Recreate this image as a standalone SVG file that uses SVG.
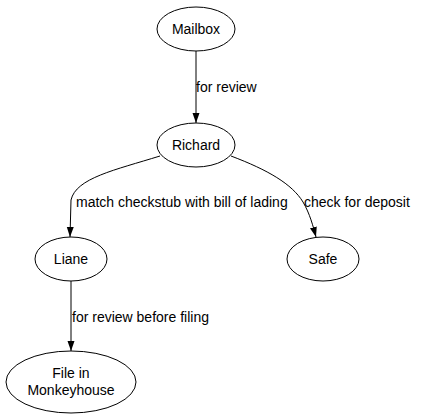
<svg xmlns="http://www.w3.org/2000/svg" width="439" height="419" viewBox="0 0 439 419">
<style>
.n{fill:#fff;stroke:#000;stroke-width:1}
.t{font-family:"Liberation Sans",Arial,sans-serif;font-size:14px;fill:#000;text-anchor:middle}
.l{font-family:"Liberation Sans",Arial,sans-serif;font-size:14px;fill:#000}
.e{fill:none;stroke:#000;stroke-width:1}
</style>
<defs>
<marker id="a" viewBox="0 0 10 10" refX="10" refY="5" markerWidth="10" markerHeight="10" markerUnits="userSpaceOnUse" orient="auto">
<path d="M0,1.5 L10,5 L0,8.5 Z" fill="#000"/>
</marker>
</defs>
<rect width="439" height="419" fill="#fff"/>
<g id="edges">
<path class="e" d="M196,51 L196,123" marker-end="url(#a)"/>
<text class="l" x="196" y="92">for review</text>
<path class="e" d="M160,156 C115,170 76,178 71,200 L70,237" marker-end="url(#a)"/>
<text class="l" x="76" y="207">match checkstub with bill of lading</text>
<path class="e" d="M231,156 C268,170 292,184 303,202 C310,214 313,226 316,237" marker-end="url(#a)"/>
<text class="l" x="304" y="207">check for deposit</text>
<path class="e" d="M71,281 L71,351" marker-end="url(#a)"/>
<text class="l" x="72" y="322">for review before filing</text>
</g>
<g id="mailbox"><ellipse class="n" cx="196" cy="29" rx="39" ry="22"/><text class="t" x="196" y="34">Mailbox</text></g>
<g id="richard"><ellipse class="n" cx="196" cy="145" rx="39" ry="22"/><text class="t" x="196" y="150">Richard</text></g>
<g id="liane"><ellipse class="n" cx="71" cy="259" rx="36" ry="22"/><text class="t" x="71" y="264">Liane</text></g>
<g id="safe"><ellipse class="n" cx="323" cy="259" rx="36" ry="22"/><text class="t" x="323" y="264">Safe</text></g>
<g id="file"><ellipse class="n" cx="71" cy="382" rx="65" ry="31"/><text class="t" x="71" y="378">File in</text><text class="t" x="71" y="395">Monkeyhouse</text></g>
</svg>
